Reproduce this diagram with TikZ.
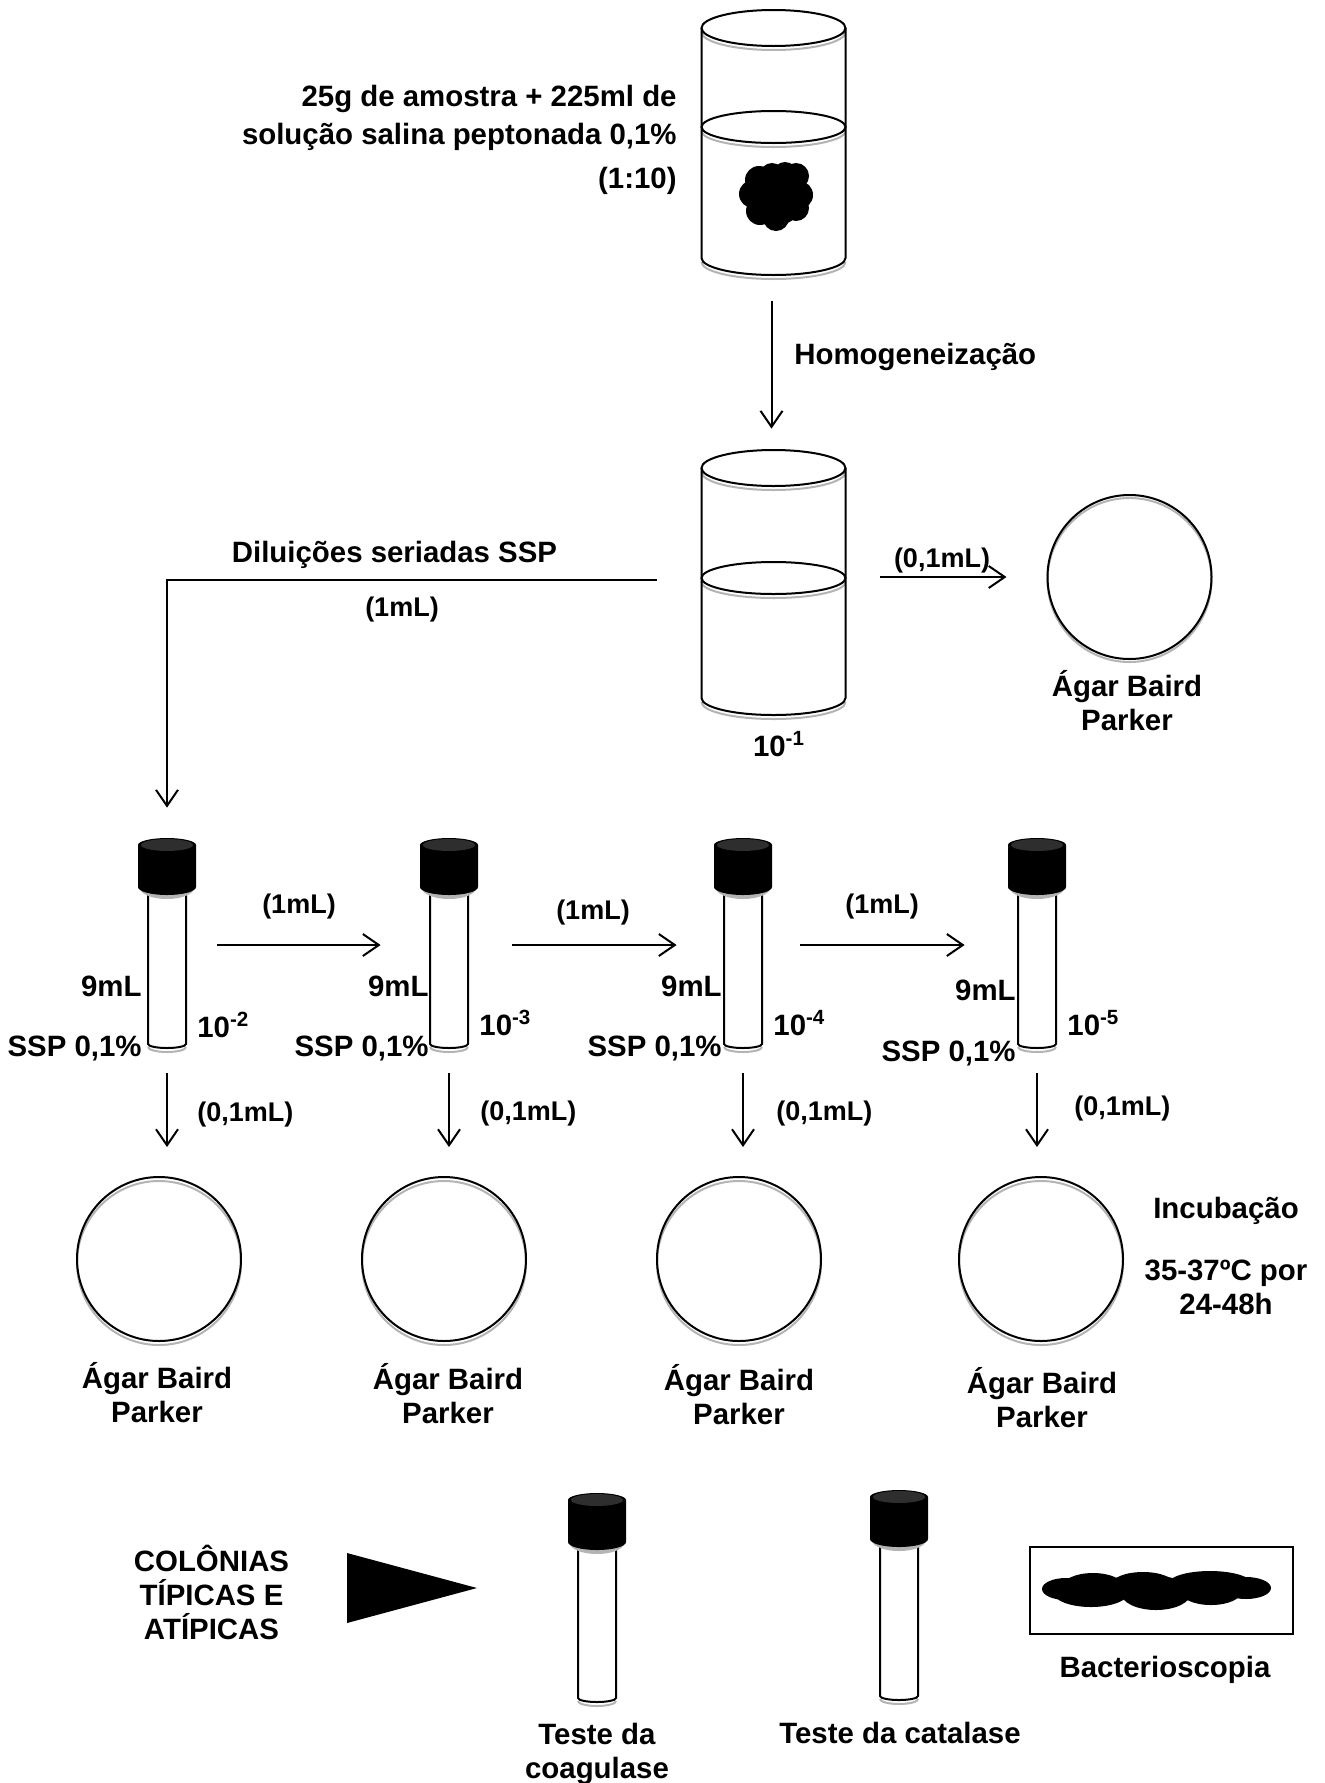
\documentclass[tikz,border=0pt]{standalone}
\usepackage{fontspec}
\setmainfont{Liberation Sans}
\usetikzlibrary{arrows.meta,positioning}
\definecolor{rimgray}{HTML}{B4B4B4}
\definecolor{captop}{HTML}{2E2E2E}
\tikzset{
  arrowline/.style={-{Straight Barb[length=8pt,width=11pt,line width=1pt]},black,line width=1pt},
  plainline/.style={black,line width=1pt},
  txtlabel/.style={font=\fontsize{14.7}{17}\selectfont\bfseries,align=center,inner sep=0pt,text=black},
  vollabel/.style={font=\fontsize{13.5}{17}\selectfont\bfseries,inner sep=0pt,text=black},
  platedish/.style={circle,draw=black,line width=1pt,minimum size=82pt,inner sep=0pt},
  platerim/.style={circle,draw=rimgray,line width=1pt,minimum size=82pt,inner sep=0pt},
  pics/beaker/.style={code={
    \draw[rimgray,line width=1pt] (-72,4) arc[start angle=180,end angle=0,x radius=72,y radius=18];
    \draw[rimgray,line width=1pt] (-72,#1+4) arc[start angle=180,end angle=0,x radius=72,y radius=16];
    \draw[rimgray,line width=1pt] (-72,234) arc[start angle=180,end angle=0,x radius=72,y radius=17];
    \draw[plainline] (0,0) ellipse (72 and 18);
    \draw[plainline] (0,#1) ellipse (72 and 16);
    \draw[plainline] (-72,0) -- (-72,230) arc[start angle=180,end angle=0,x radius=72,y radius=17] -- (72,0);
    \node[inner sep=0pt,minimum width=72pt,minimum height=123.5pt] (-glass) at (0,123.5) {};
  }},
  pics/testtube/.style={code={
    \draw[rimgray,line width=1pt] (-19,#1-1) arc[start angle=180,end angle=0,x radius=19,y radius=5];
    \draw[plainline,fill=white] (-19,40) -- (-19,#1-4) arc[start angle=180,end angle=0,x radius=19,y radius=4] -- (19,40) -- cycle;
    \fill[rimgray] (-27,50) arc[start angle=180,end angle=0,x radius=27,y radius=11] -- cycle;
    \fill[black] (-29,7) -- (-29,49) arc[start angle=180,end angle=0,x radius=29,y radius=8] -- (29,7) arc[start angle=0,end angle=180,x radius=29,y radius=-7] -- cycle;
    \fill[captop] (0,7) ellipse (26 and 6);
    \node[inner sep=0pt,minimum width=19pt,minimum height=#1*0.5pt+2pt] (-glass) at (0,#1*0.5+2) {};
  }}
}

\begin{document}
\begin{tikzpicture}[x=0.5pt,y=-0.5pt]
\useasboundingbox (0,0) rectangle (1324,1783);
% first beaker
\pic (beakerA) at (773.5,28) {beaker=99};
\fill[black] (775,197) circle (29);
\fill[black] (753,194) circle (14);
\fill[black] (759,180) circle (14);
\fill[black] (772,175) circle (12);
\fill[black] (785,174) circle (12);
\fill[black] (796,176) circle (13);
\fill[black] (799,195) circle (14);
\fill[black] (796,208) circle (13);
\fill[black] (776,218) circle (13);
\fill[black] (760,211) circle (14);
\node[txtlabel,anchor=base east] (sampleA) at (677,106) {25g de amostra + 225ml de};
\node[txtlabel,anchor=base east] (sampleB) at (677,144) {solução salina peptonada 0,1\%};
\node[txtlabel,anchor=base east] (sampleC) at (677,188) {(1:10)};
% second beaker
\pic (beakerB) at (773.5,468) {beaker=110};
\draw[arrowline,shorten <=13pt,shorten >=19.5pt] ([xshift=-1pt]beakerA-glass.south) -- ([xshift=-1pt]beakerB-glass.north);
\node[txtlabel,anchor=base west] (homog) at (794,364) {Homogeneização};
\node[txtlabel,anchor=base] (dilut) at (394.5,562) {Diluições seriadas SSP};
\node[vollabel,anchor=base] (dilutvol) at (402,616) {(1mL)};
\node[txtlabel,anchor=base] (tenA) at (779,756) {10\textsuperscript{-1}};
\node[platerim] (plateArim) at (1129.5,580) {};
\node[platedish] (plateA) at (1129.5,577) {};
\node[txtlabel] (plateAlab) at (1127,700.5) {Ágar Baird\\Parker};
\coordinate (platestart) at (880,577);
\draw[arrowline,shorten >=20pt] (platestart) -- (plateA.west);
\node[vollabel,anchor=base] (plateAvol) at (942,567) {(0,1mL)};
% serial dilution tubes
\pic (tubeA) at (167,838) {testtube=210};
\pic (tubeB) at (449,838) {testtube=210};
\pic (tubeC) at (743,838) {testtube=210};
\pic (tubeD) at (1037,838) {testtube=210};
\coordinate (dilutstart) at (657,580);
\draw[arrowline,shorten >=15pt] (dilutstart) -| (tubeA-glass.north);
\draw[arrowline,shorten <=15.5pt,shorten >=24.5pt] (tubeA-glass.east) -- (tubeB-glass.west);
\draw[arrowline,shorten <=22pt,shorten >=23.5pt] (tubeB-glass.east) -- (tubeC-glass.west);
\draw[arrowline,shorten <=19pt,shorten >=26.5pt] (tubeC-glass.east) -- (tubeD-glass.west);
\node[vollabel,anchor=base] (stepA) at (299,913) {(1mL)};
\node[vollabel,anchor=base] (stepB) at (593,919) {(1mL)};
\node[vollabel,anchor=base] (stepC) at (882,913) {(1mL)};
\node[txtlabel,anchor=base east] (nineA) at (142,996) {9mL};
\node[txtlabel,anchor=base east] (nineB) at (429,996) {9mL};
\node[txtlabel,anchor=base east] (nineC) at (722,996) {9mL};
\node[txtlabel,anchor=base east] (nineD) at (1016,1000) {9mL};
\node[txtlabel,anchor=base east] (sspA) at (142,1056) {SSP 0,1\%};
\node[txtlabel,anchor=base east] (sspB) at (429,1056) {SSP 0,1\%};
\node[txtlabel,anchor=base east] (sspC) at (722,1056) {SSP 0,1\%};
\node[txtlabel,anchor=base east] (sspD) at (1016,1061) {SSP 0,1\%};
\node[txtlabel,anchor=base west] (tenB) at (197,1037) {10\textsuperscript{-2}};
\node[txtlabel,anchor=base west] (tenC) at (479,1035) {10\textsuperscript{-3}};
\node[txtlabel,anchor=base west] (tenD) at (773,1035) {10\textsuperscript{-4}};
\node[txtlabel,anchor=base west] (tenE) at (1067,1035) {10\textsuperscript{-5}};
% plates
\node[platerim] (plateBrim) at (159,1263) {};
\node[platedish] (plateB) at (159,1259) {};
\node[platerim] (plateCrim) at (444,1263) {};
\node[platedish] (plateC) at (444,1259) {};
\node[platerim] (plateDrim) at (739,1263) {};
\node[platedish] (plateD) at (739,1259) {};
\node[platerim] (plateErim) at (1041,1263) {};
\node[platedish] (plateE) at (1041,1259) {};
\draw[arrowline,shorten <=10.5pt,shorten >=14.5pt] (tubeA-glass.south) -- (tubeA-glass.south |- plateB.north);
\draw[arrowline,shorten <=10.5pt,shorten >=14.5pt] (tubeB-glass.south) -- (tubeB-glass.south |- plateC.north);
\draw[arrowline,shorten <=10.5pt,shorten >=14.5pt] (tubeC-glass.south) -- (tubeC-glass.south |- plateD.north);
\draw[arrowline,shorten <=10.5pt,shorten >=14.5pt] (tubeD-glass.south) -- (tubeD-glass.south |- plateE.north);
\node[vollabel,anchor=base west] (volB) at (197,1121) {(0,1mL)};
\node[vollabel,anchor=base west] (volC) at (480,1120) {(0,1mL)};
\node[vollabel,anchor=base west] (volD) at (776,1120) {(0,1mL)};
\node[vollabel,anchor=base west] (volE) at (1074,1115) {(0,1mL)};
\node[txtlabel] (plateBlab) at (157,1392.5) {Ágar Baird\\Parker};
\node[txtlabel] (plateClab) at (448,1393.5) {Ágar Baird\\Parker};
\node[txtlabel] (plateDlab) at (739,1394.5) {Ágar Baird\\Parker};
\node[txtlabel] (plateElab) at (1042,1397.5) {Ágar Baird\\Parker};
\node[txtlabel,anchor=base] (incub) at (1226,1218) {Incubação};
\node[txtlabel] (incubtime) at (1226,1287) {35-37ºC por\\24-48h};
% confirmation tests
\node[txtlabel] (colonies) at (211.5,1592) {COLÔNIAS\\TÍPICAS E\\ATÍPICAS};
\fill[black] (347,1553) -- (477,1588) -- (347,1623) -- cycle;
\pic (tubeE) at (597,1493) {testtube=209};
\pic (tubeF) at (899,1490) {testtube=210};
\node[txtlabel] (coag) at (597,1754) {Teste da\\coagulase};
\node[txtlabel,anchor=base] (catal) at (900,1743) {Teste da catalase};
\node[draw=black,line width=1pt,fill=white,minimum width=131.5pt,minimum height=43.5pt,inner sep=0pt] (slide) at (1161,1590.5) {};
\fill[black] (1066,1589) ellipse (24 and 11);
\fill[black] (1093,1587) ellipse (31 and 14);
\fill[black] (1091,1592) ellipse (38 and 15);
\fill[black] (1143,1585) ellipse (32 and 13);
\fill[black] (1156,1593) ellipse (35 and 17);
\fill[black] (1210,1584) ellipse (42 and 13);
\fill[black] (1211,1592) ellipse (30 and 13);
\fill[black] (1246,1588) ellipse (25 and 11);
\node[txtlabel,anchor=base] (bact) at (1165,1677) {Bacterioscopia};
\end{tikzpicture}
\end{document}
